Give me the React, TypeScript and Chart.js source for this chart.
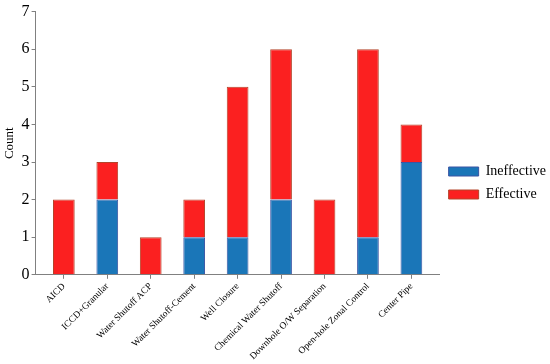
import React, { useEffect, useRef } from "react";
import { Chart, registerables } from "chart.js";

Chart.register(...registerables);

const categories = [
  "AICD",
  "ICCD+Granular",
  "Water Shutoff ACP",
  "Water Shutoff-Cement",
  "Well Closure",
  "Chemical Water Shutoff",
  "Downhole O/W Separation",
  "Open-hole Zonal Control",
  "Center Pipe",
];
const ineffective = [0, 2, 0, 1, 1, 2, 0, 1, 3];
const effective = [2, 1, 1, 1, 4, 4, 2, 5, 1];
const yTicks = [0, 1, 2, 3, 4, 5, 6, 7];

const FONT = "'Liberation Serif'";

export default function App() {
  const ref = useRef<HTMLCanvasElement | null>(null);
  useEffect(() => {
    const canvas = ref.current;
    if (!canvas) return;
    const chart = new Chart(canvas, {
      type: "bar",
      data: {
        datasets: [
          {
            label: "Ineffective",
            data: categories.map((_, i) => ({ x: i, y: ineffective[i] })),
            backgroundColor: "#1a76b8",
            borderColor: "#3a55a4",
            borderWidth: 1,
            barPercentage: 0.5,
            categoryPercentage: 1,
          },
          {
            label: "Effective",
            data: categories.map((_, i) => ({ x: i, y: effective[i] })),
            backgroundColor: "#fb2020",
            borderColor: "#b4442a",
            borderWidth: 1,
            barPercentage: 0.5,
            categoryPercentage: 1,
          },
        ],
      },
      options: {
        animation: false,
        responsive: false,
        maintainAspectRatio: false,
        layout: { padding: { top: 2, right: -6, left: 2, bottom: 0 } },
        plugins: {
          legend: {
            position: "right",
            labels: {
              boxWidth: 30,
              boxHeight: 9,
              padding: 9,
              color: "#000",
              font: { family: FONT, size: 14 },
            },
          },
          tooltip: { enabled: false },
        },
        scales: {
          x: {
            type: "linear",
            stacked: true,
            offset: false,
            min: -0.65,
            max: categories.length - 1 + 0.65,
            afterBuildTicks: (scale: any) => {
              scale.ticks = categories.map((_, i) => ({ value: i }));
            },
            grid: {
              display: true,
              drawOnChartArea: false,
              drawTicks: true,
              tickLength: 4,
              color: "#808080",
              offset: false,
            },
            border: { display: true, color: "#808080", width: 1 },
            ticks: {
              autoSkip: false,
              minRotation: 45,
              maxRotation: 45,
              padding: 2,
              color: "#000",
              font: { family: FONT, size: 9.5 },
              callback: (v: any) => categories[v] ?? "",
            },
          },
          y: {
            stacked: true,
            min: 0,
            max: 7,
            afterBuildTicks: (scale: any) => {
              scale.ticks = yTicks.map((v) => ({ value: v }));
            },
            grid: {
              display: true,
              drawOnChartArea: false,
              drawTicks: true,
              tickLength: 4,
              color: "#808080",
            },
            border: { display: true, color: "#808080", width: 1 },
            ticks: {
              padding: 2,
              color: "#000",
              font: { family: FONT, size: 16 },
            },
            title: {
              display: true,
              text: "Count",
              color: "#000",
              padding: { top: 0, bottom: 2 },
              font: { family: FONT, size: 13 },
            },
          },
        },
      },
    } as any);
    return () => chart.destroy();
  }, []);
  return (
    <div
      style={{
        position: "fixed",
        left: 0,
        top: 0,
        width: 550,
        height: 364,
        background: "#fff",
      }}
    >
      <canvas ref={ref} width={550} height={364} style={{ display: "block" }} />
    </div>
  );
}
